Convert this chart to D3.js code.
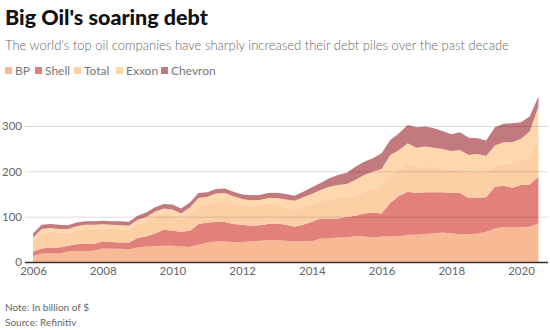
<!DOCTYPE html>
<html>
<head>
<meta charset="utf-8">
<style>
    body { margin: 0; background: #fff; }
    svg { font-family: Lato, "Open Sans", sans-serif; }
</style>
</head>
<body>
<svg width="550" height="330"></svg>
<script src="https://cdn.jsdelivr.net/npm/d3@7"></script>
<script>
    // quarterly debt, billion $, 2006 Q1 .. 2020 Q3
    const firstYear = 2006;
    const companies = ["BP", "Shell", "Total", "Exxon", "Chevron"];
    const colors = ["#f8b995", "#e2807a", "#fccfa5", "#fdd7ad", "#c27a7e"];

    const bp = [13, 19, 19, 19, 23, 24, 24, 25, 30, 29, 29, 28, 32, 34, 35, 36, 36, 34, 33, 38,
        43, 45, 45, 44, 44, 45, 47, 48, 48, 47, 45, 46, 46, 52, 52, 54, 54, 57, 56, 54,
        56, 56, 57, 60, 60, 62, 63, 65, 63, 62, 61, 63, 67, 74, 77, 76, 77, 78, 85];
    const shell = [10, 11, 13, 13, 13, 15, 16, 15, 16, 15, 14, 15, 21, 23, 28, 35, 33, 33, 36, 46,
        44, 43, 43, 40, 38, 35, 34, 36, 37, 35, 33, 36, 43, 44, 44, 42, 45, 45, 51, 55,
        51, 74, 89, 95, 92, 92, 91, 89, 89, 90, 80, 79, 76, 92, 91, 88, 93, 93, 103];
    const total = [23, 35, 35, 33, 28, 31, 33, 32, 28, 29, 29, 28, 30, 32, 37, 37, 35, 27, 36, 42,
        41, 46, 47, 44, 45, 44, 44, 45, 43, 39, 37, 38, 38, 38, 43, 45, 42, 44, 48, 51,
        59, 64, 58, 63, 57, 58, 56, 53, 51, 55, 56, 58, 53, 48, 50, 53, 55, 59, 85];
    const exxon = [8, 8, 8, 8, 9, 9, 9, 10, 9, 9, 9, 9, 10, 10, 11, 10, 12, 13, 15, 15,
        16, 17, 17, 17, 12, 12, 12, 12, 13, 17, 20, 23, 23, 25, 27, 29, 31, 35, 37, 39,
        39, 42, 43, 44, 43, 43, 42, 42, 42, 40, 39, 38, 38, 43, 46, 47, 47, 58, 70];
    const chevron = [9, 9, 9, 9, 8, 8, 8, 8, 8, 8, 9, 9, 9, 10, 10, 10, 11, 11, 11, 11,
        10, 10, 10, 10, 10, 11, 11, 11, 12, 12, 11, 12, 15, 15, 19, 22, 25, 29, 29, 30,
        35, 33, 37, 40, 45, 44, 43, 40, 37, 39, 38, 35, 34, 40, 41, 42, 36, 33, 22];

    const yTicks = [0, 100, 200, 300];
    const xTicks = [2006, 2008, 2010, 2012, 2014, 2016, 2018, 2020];

    const series = [bp, shell, total, exxon, chevron];
    const rows = bp.map((v, i) => {
        const r = { t: firstYear + i / 4 };
        companies.forEach((c, k) => r[c] = series[k][i]);
        return r;
    });

    const svg = d3.select("svg");

    const x = d3.scaleLinear().domain([2006, 2020]).range([33, 521]);
    const y = d3.scaleLinear().domain([0, 300]).range([262, 126]);
    const color = d3.scaleOrdinal(companies, colors);

    // titles
    svg.append("text")
        .attr("x", 5).attr("y", 25)
        .attr("font-size", 21.5).attr("font-weight", 900)
        .attr("fill", "#111")
        .text("Big Oil's soaring debt");

    svg.append("text")
        .attr("x", 5).attr("y", 50)
        .attr("font-size", 13).attr("font-weight", 300)
        .attr("fill", "#666")
        .text("The world's top oil companies have sharply increased their debt piles over the past decade");

    // legend
    const legendX = [5, 35, 74, 116, 161];
    const legend = svg.append("g")
        .selectAll("g")
        .data(companies)
        .join("g")
        .attr("transform", (d, i) => `translate(${legendX[i]},70)`);
    legend.append("rect")
        .attr("y", -3).attr("width", 7).attr("height", 7)
        .attr("fill", d => color(d));
    legend.append("text")
        .attr("x", 10).attr("y", 4.5)
        .attr("font-size", 12).attr("fill", "#777")
        .text(d => d);

    // stacked areas
    const stack = d3.stack().keys(companies);
    const area = d3.area()
        .x(d => x(d.data.t))
        .y0(d => y(d[0]))
        .y1(d => y(d[1]));

    svg.append("g")
        .selectAll("path")
        .data(stack(rows))
        .join("path")
        .attr("fill", d => color(d.key))
        .attr("d", area);

    // grid drawn over the areas
    svg.append("g")
        .selectAll("line")
        .data(yTicks.filter(d => d > 0))
        .join("line")
        .attr("x1", 25).attr("x2", 548)
        .attr("y1", d => y(d) + 0.5).attr("y2", d => y(d) + 0.5)
        .attr("stroke", "#000").attr("stroke-opacity", 0.14);

    const yAxis = svg.append("g")
        .attr("transform", "translate(22,0)")
        .call(d3.axisLeft(y).tickValues(yTicks).tickSize(0).tickPadding(0))
        .call(g => g.select(".domain").remove());
    yAxis.selectAll("text")
        .attr("font-family", "Lato, sans-serif")
        .attr("font-size", 11.5).attr("fill", "#666");

    svg.append("line")
        .attr("x1", 25).attr("x2", 548)
        .attr("y1", y(0) + 0.5).attr("y2", y(0) + 0.5)
        .attr("stroke", "#333").attr("stroke-width", 1.3);

    const xAxis = svg.append("g")
        .attr("transform", `translate(0,${y(0)})`)
        .call(d3.axisBottom(x).tickValues(xTicks).tickFormat(d3.format("d")).tickSize(0).tickPadding(5))
        .call(g => g.select(".domain").remove());
    xAxis.selectAll("text")
        .attr("font-family", "Lato, sans-serif")
        .attr("font-size", 11.5).attr("fill", "#666");

    // footer
    svg.append("text")
        .attr("x", 5).attr("y", 311)
        .attr("font-size", 10).attr("fill", "#666")
        .text("Note: In billion of $");
    svg.append("text")
        .attr("x", 5).attr("y", 326)
        .attr("font-size", 10).attr("fill", "#666")
        .text("Source: Refinitiv");
</script>
</body>
</html>
